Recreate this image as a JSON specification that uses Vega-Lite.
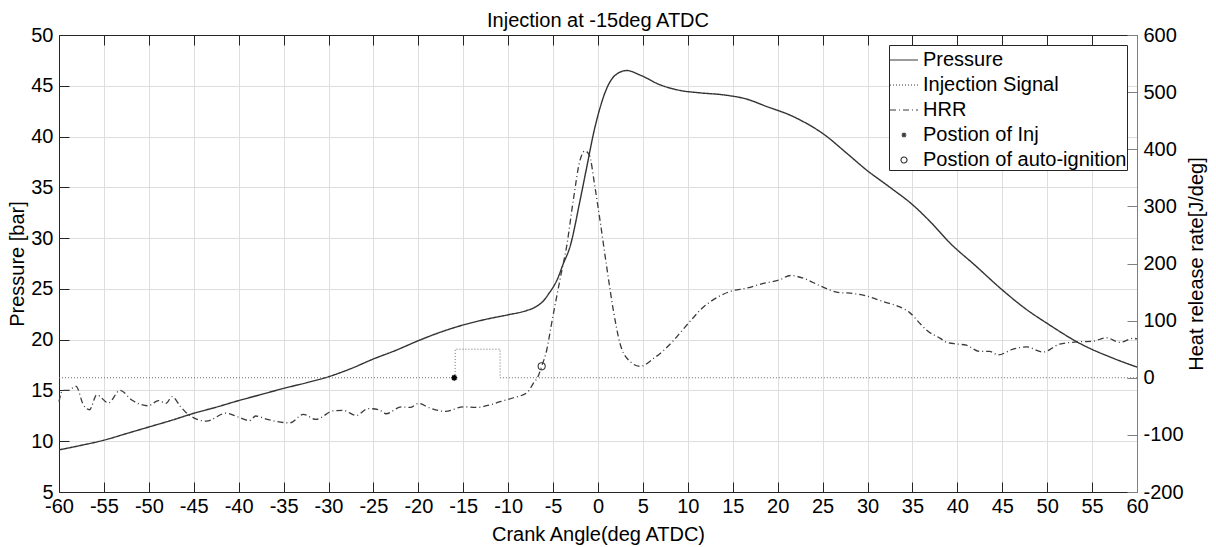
{
  "$schema": "https://vega.github.io/schema/vega-lite/v6.json",
  "width": 1078,
  "height": 457,
  "autosize": {"type": "none"},
  "padding": {"left": 59, "top": 35, "right": 79, "bottom": 55},
  "background": "white",
  "title": {"text": "Injection at -15deg ATDC", "fontSize": 20, "fontWeight": "normal", "font": "Liberation Sans", "color": "#000000", "offset": -6},
  "config": {
    "font": "Liberation Sans",
    "view": {"stroke": "#262626", "strokeWidth": 1},
    "axis": {"labelFont": "Liberation Sans", "titleFont": "Liberation Sans", "labelFontSize": 20, "titleFontSize": 20, "titleFontWeight": "normal", "labelColor": "#000000", "titleColor": "#000000", "domainColor": "#262626", "tickColor": "#262626", "labelFlush": false, "labelOverlap": false, "gridColor": "#dedede", "gridWidth": 1, "gridOpacity": 1},
    "legend": {"labelFont": "Liberation Sans"}
  },
  "datasets": {
    "pressure": [
      {"angle": -60, "pressure": 9.15}, {"angle": -57.5, "pressure": 9.6}, {"angle": -55, "pressure": 10.1}, {"angle": -52.5, "pressure": 10.75},
      {"angle": -50, "pressure": 11.4}, {"angle": -47.5, "pressure": 12.05}, {"angle": -45, "pressure": 12.75}, {"angle": -42.5, "pressure": 13.35},
      {"angle": -40, "pressure": 14.0}, {"angle": -37.5, "pressure": 14.6}, {"angle": -35, "pressure": 15.2}, {"angle": -32.5, "pressure": 15.75},
      {"angle": -30, "pressure": 16.35}, {"angle": -27.5, "pressure": 17.15}, {"angle": -25, "pressure": 18.1}, {"angle": -22.5, "pressure": 18.95},
      {"angle": -20, "pressure": 19.9}, {"angle": -17.5, "pressure": 20.75}, {"angle": -15, "pressure": 21.45}, {"angle": -12.5, "pressure": 22.0},
      {"angle": -10, "pressure": 22.45}, {"angle": -8, "pressure": 22.85}, {"angle": -7, "pressure": 23.2}, {"angle": -6, "pressure": 23.9},
      {"angle": -5.5, "pressure": 24.5}, {"angle": -4.5, "pressure": 26.0}, {"angle": -3.9, "pressure": 27.4}, {"angle": -3.1, "pressure": 29.2},
      {"angle": -2, "pressure": 33.7}, {"angle": -1.25, "pressure": 37.0}, {"angle": -0.5, "pressure": 40.3}, {"angle": 0.25, "pressure": 42.9},
      {"angle": 1, "pressure": 44.8}, {"angle": 2, "pressure": 46.1}, {"angle": 3.2, "pressure": 46.5}, {"angle": 4.7, "pressure": 46.05},
      {"angle": 6.9, "pressure": 45.1}, {"angle": 9.1, "pressure": 44.55}, {"angle": 11.4, "pressure": 44.3}, {"angle": 14, "pressure": 44.1},
      {"angle": 16.5, "pressure": 43.7}, {"angle": 18.8, "pressure": 42.95}, {"angle": 21.4, "pressure": 42.1}, {"angle": 23.2, "pressure": 41.3},
      {"angle": 25.1, "pressure": 40.25}, {"angle": 27.7, "pressure": 38.35}, {"angle": 29.9, "pressure": 36.7}, {"angle": 32.5, "pressure": 35.0},
      {"angle": 35, "pressure": 33.3}, {"angle": 37, "pressure": 31.6}, {"angle": 39.2, "pressure": 29.5}, {"angle": 42, "pressure": 27.3},
      {"angle": 45, "pressure": 24.9}, {"angle": 47.5, "pressure": 23.1}, {"angle": 50, "pressure": 21.6}, {"angle": 53.7, "pressure": 19.6},
      {"angle": 57.4, "pressure": 18.15}, {"angle": 60, "pressure": 17.3}
    ],
    "hrr": [
      {"angle": -60, "hrr": -42}, {"angle": -59.6, "hrr": -22}, {"angle": -59, "hrr": -22}, {"angle": -58.1, "hrr": -15},
      {"angle": -57.3, "hrr": -47}, {"angle": -56.6, "hrr": -56}, {"angle": -55.8, "hrr": -30}, {"angle": -54.5, "hrr": -44},
      {"angle": -53.2, "hrr": -22}, {"angle": -51.9, "hrr": -39}, {"angle": -50.1, "hrr": -49}, {"angle": -48.9, "hrr": -40},
      {"angle": -48.1, "hrr": -45}, {"angle": -47.4, "hrr": -33}, {"angle": -46.5, "hrr": -50}, {"angle": -45.7, "hrr": -63},
      {"angle": -43.6, "hrr": -76}, {"angle": -41.4, "hrr": -62}, {"angle": -40, "hrr": -69}, {"angle": -38.8, "hrr": -75},
      {"angle": -38.1, "hrr": -67}, {"angle": -36.8, "hrr": -73}, {"angle": -34.3, "hrr": -79}, {"angle": -32.8, "hrr": -64},
      {"angle": -31.4, "hrr": -73}, {"angle": -29.5, "hrr": -58}, {"angle": -28.4, "hrr": -57}, {"angle": -26.9, "hrr": -66},
      {"angle": -25.6, "hrr": -54}, {"angle": -24.4, "hrr": -56}, {"angle": -23.6, "hrr": -63}, {"angle": -21.9, "hrr": -51},
      {"angle": -20.9, "hrr": -52}, {"angle": -20, "hrr": -45}, {"angle": -18.7, "hrr": -53}, {"angle": -17, "hrr": -59},
      {"angle": -15, "hrr": -51}, {"angle": -13.5, "hrr": -52}, {"angle": -12.4, "hrr": -49}, {"angle": -10.9, "hrr": -42},
      {"angle": -9.4, "hrr": -35}, {"angle": -7.9, "hrr": -26}, {"angle": -7.2, "hrr": -10}, {"angle": -6.6, "hrr": 5},
      {"angle": -6.27, "hrr": 20}, {"angle": -5.7, "hrr": 49}, {"angle": -5.2, "hrr": 92}, {"angle": -4.6, "hrr": 142},
      {"angle": -4.0, "hrr": 190}, {"angle": -3.5, "hrr": 229}, {"angle": -2.75, "hrr": 311}, {"angle": -2, "hrr": 381},
      {"angle": -1.45, "hrr": 397}, {"angle": -0.97, "hrr": 390}, {"angle": -0.34, "hrr": 334}, {"angle": 0.22, "hrr": 276},
      {"angle": 0.97, "hrr": 194}, {"angle": 1.7, "hrr": 119}, {"angle": 2.45, "hrr": 60}, {"angle": 3.4, "hrr": 31},
      {"angle": 4.7, "hrr": 20}, {"angle": 6.2, "hrr": 34}, {"angle": 8.4, "hrr": 65}, {"angle": 9.1, "hrr": 78},
      {"angle": 10.6, "hrr": 105}, {"angle": 11.4, "hrr": 119}, {"angle": 12.5, "hrr": 133}, {"angle": 14.7, "hrr": 151},
      {"angle": 16.55, "hrr": 157}, {"angle": 18.4, "hrr": 165}, {"angle": 20.3, "hrr": 172}, {"angle": 21.4, "hrr": 179},
      {"angle": 22.9, "hrr": 174}, {"angle": 24.7, "hrr": 161}, {"angle": 26.9, "hrr": 149}, {"angle": 28.1, "hrr": 148},
      {"angle": 29.9, "hrr": 143}, {"angle": 31.8, "hrr": 133}, {"angle": 33.6, "hrr": 124}, {"angle": 34.7, "hrr": 114},
      {"angle": 35.9, "hrr": 94}, {"angle": 36.6, "hrr": 83}, {"angle": 38.1, "hrr": 69}, {"angle": 38.8, "hrr": 62},
      {"angle": 40, "hrr": 59}, {"angle": 41, "hrr": 57}, {"angle": 42.5, "hrr": 46}, {"angle": 43.6, "hrr": 46},
      {"angle": 44.55, "hrr": 40}, {"angle": 46.2, "hrr": 50}, {"angle": 47.7, "hrr": 54}, {"angle": 49.55, "hrr": 45},
      {"angle": 51.4, "hrr": 59}, {"angle": 53.7, "hrr": 63}, {"angle": 55.1, "hrr": 64}, {"angle": 56.6, "hrr": 70},
      {"angle": 58.1, "hrr": 62}, {"angle": 59.6, "hrr": 69}, {"angle": 60, "hrr": 68}
    ],
    "inj": [
      {"angle": -60, "hrr": 0}, {"angle": -15.9, "hrr": 50}, {"angle": -10.9, "hrr": 0}, {"angle": 60, "hrr": 0}
    ],
    "injpos": [{"angle": -16, "hrr": 0}],
    "ignpos": [{"angle": -6.27, "hrr": 20}]
  },
  "layer": [
    {
      "data": {"name": "pressure"},
      "mark": {"type": "line", "color": "#333333", "strokeWidth": 1.4, "interpolate": "monotone"},
      "encoding": {
        "x": {"field": "angle", "type": "quantitative", "scale": {"domain": [-60, 60], "nice": false, "zero": false},
          "axis": {"orient": "bottom", "values": [-60,-55,-50,-45,-40,-35,-30,-25,-20,-15,-10,-5,0,5,10,15,20,25,30,35,40,45,50,55,60], "grid": true, "tickSize": -10, "labelPadding": 14, "labelExpr": "toString(datum.value)", "title": "Crank Angle(deg ATDC)", "titlePadding": 8}},
        "y": {"field": "pressure", "type": "quantitative", "scale": {"domain": [5, 50], "nice": false, "zero": false},
          "axis": {"orient": "left", "values": [5,10,15,20,25,30,35,40,45,50], "grid": true, "tickSize": -10, "labelPadding": 16, "title": "Pressure [bar]", "titlePadding": 3, "labelBaseline": "middle"}},
        "strokeDash": {"datum": "Pressure",
          "scale": {"domain": ["Pressure", "Injection Signal", "HRR", "Postion of Inj", "Postion of auto-ignition"], "range": [[1, 0], [1, 2], [6, 3, 1, 3], [1, 0], [1, 0]]},
          "legend": {"title": null, "orient": "top-right", "offset": 10, "padding": 0, "rowPadding": -4.7, "labelFontSize": 20, "labelColor": "#000000", "labelLimit": 400, "labelOffset": 4,
            "strokeColor": "#262626", "fillColor": "white", "symbolType": "stroke", "symbolSize": 784, "symbolStrokeColor": "#3a3a3a", "symbolStrokeWidth": 1.2, "symbolFillColor": "transparent",
            "encode": {"symbols": {"update": {
              "shape": {"signal": "datum.value === 'Postion of Inj' ? 'M-1,0L1,0M0,-1L0,1M-0.7,-0.7L0.7,0.7M-0.7,0.7L0.7,-0.7' : (datum.value === 'Postion of auto-ignition' ? 'circle' : 'stroke')"},
              "size": {"signal": "datum.value === 'Postion of Inj' ? 25 : (datum.value === 'Postion of auto-ignition' ? 36 : 784)"}
            }}}}
        }
      }
    },
    {
      "encoding": {
        "x": {"field": "angle", "type": "quantitative", "scale": {"domain": [-60, 60], "nice": false, "zero": false},
          "axis": {"orient": "top", "values": [-60,-55,-50,-45,-40,-35,-30,-25,-20,-15,-10,-5,0,5,10,15,20,25,30,35,40,45,50,55,60], "grid": false, "labels": false, "tickSize": -10, "title": null}},
        "y": {"field": "hrr", "type": "quantitative", "scale": {"domain": [-200, 600], "nice": false, "zero": false},
          "axis": {"orient": "right", "values": [-200,-100,0,100,200,300,400,500,600], "grid": false, "tickSize": -10, "labelPadding": 16, "labelExpr": "toString(datum.value)", "title": "Heat release rate[J/deg]", "titlePadding": 3, "titleAngle": 270, "titleBaseline": "top", "labelBaseline": "middle", "domainColor": "#808080", "tickColor": "#808080"}}
      },
      "layer": [
        {
          "data": {"name": "hrr"},
          "mark": {"type": "line", "color": "#3a3a3a", "strokeWidth": 1.3, "interpolate": "monotone"},
          "encoding": {"strokeDash": {"datum": "HRR"}}
        },
        {
          "data": {"name": "inj"},
          "mark": {"type": "line", "color": "#6a6a6a", "strokeWidth": 1, "interpolate": "step-after"},
          "encoding": {"strokeDash": {"datum": "Injection Signal"}}
        },
        {
          "data": {"name": "injpos"},
          "mark": {"type": "point", "shape": "M-1,0L1,0M0,-1L0,1M-0.7,-0.7L0.7,0.7M-0.7,0.7L0.7,-0.7", "size": 36, "stroke": "#000000", "strokeWidth": 1.5, "filled": false, "opacity": 1},
          "encoding": {}
        },
        {
          "data": {"name": "ignpos"},
          "mark": {"type": "point", "shape": "circle", "size": 50, "stroke": "#3a3a3a", "strokeWidth": 1.1, "filled": false, "opacity": 1},
          "encoding": {}
        }
      ]
    }
  ],
  "resolve": {"scale": {"y": "independent"}, "axis": {"x": "independent", "y": "independent"}}
}
